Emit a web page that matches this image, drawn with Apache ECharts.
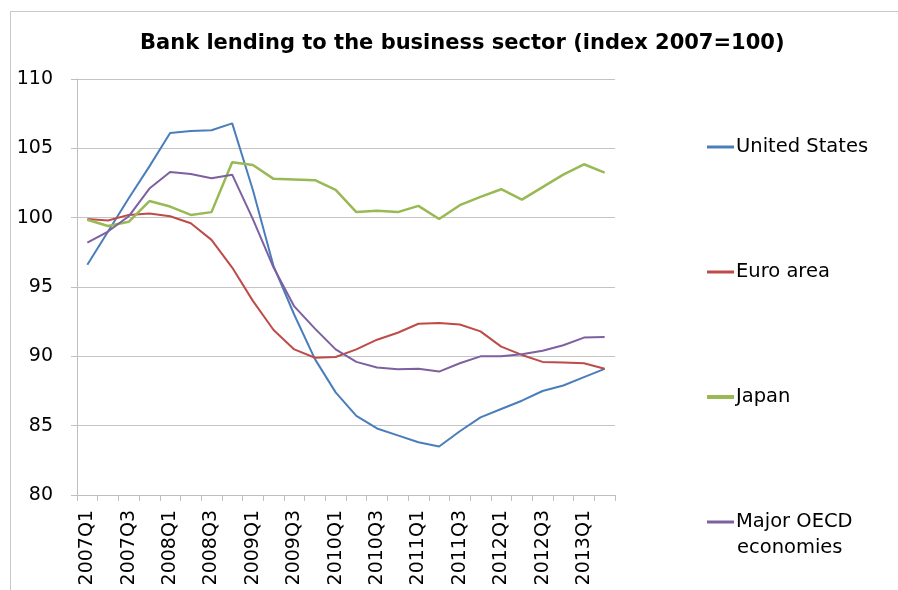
<!DOCTYPE html>
<html>
<head>
<meta charset="utf-8">
<script src="https://cdn.jsdelivr.net/npm/echarts@6/dist/echarts.min.js"></script>
<style>html,body{margin:0;padding:0;background:#fff;}#c{width:898px;height:590px;}</style>
</head>
<body>
<div id="c"></div>
<script>
const categories = ['2007Q1','2007Q2','2007Q3','2007Q4','2008Q1','2008Q2','2008Q3','2008Q4',
  '2009Q1','2009Q2','2009Q3','2009Q4','2010Q1','2010Q2','2010Q3','2010Q4',
  '2011Q1','2011Q2','2011Q3','2011Q4','2012Q1','2012Q2','2012Q3','2012Q4','2013Q1','2013Q2'];
const unitedStates = [96.6, 99.0, 101.4, 103.7, 106.1, 106.25, 106.3, 106.8, 102.0, 96.5, 93.0, 89.8, 87.4,
  85.7, 84.8, 84.3, 83.8, 83.5, 84.6, 85.6, 86.2, 86.8, 87.5, 87.9, 88.5, 89.1];
const euroArea = [99.9, 99.8, 100.2, 100.3, 100.1, 99.6, 98.4, 96.4, 94.0, 91.9, 90.5, 89.9, 89.95,
  90.5, 91.2, 91.7, 92.35, 92.4, 92.3, 91.8, 90.7, 90.1, 89.6, 89.55, 89.5, 89.1];
const japan = [99.85, 99.4, 99.7, 101.2, 100.8, 100.2, 100.4, 104.0, 103.8, 102.8, 102.75, 102.7, 102.0,
  100.4, 100.5, 100.4, 100.85, 99.9, 100.9, 101.5, 102.05, 101.3, 102.2, 103.1, 103.85, 103.25];
const majorOECD = [98.2, 99.0, 100.1, 102.1, 103.3, 103.15, 102.85, 103.1, 99.9, 96.4, 93.6, 92.0, 90.5,
  89.6, 89.2, 89.07, 89.1, 88.9, 89.5, 90.0, 90.0, 90.15, 90.4, 90.8, 91.35, 91.4];
const yTicks = {min: 80, max: 110, interval: 5};
const titleText = 'Bank lending to the business sector (index 2007=100)';
const names = ['United States', 'Euro area', 'Japan', 'Major OECD'];
const colors = ['#4a7ebb', '#be4b48', '#98b954', '#7d60a0'];

const font = 'DejaVu Sans, Verdana, sans-serif';
const chart = echarts.init(document.getElementById('c'), null, {renderer: 'canvas'});
const legendTops = [132, 257, 382, 507];
const legends = names.map((n, i) => ({
  data: [n], left: 702, top: legendTops[i], orient: 'vertical',
  itemWidth: 27, itemHeight: i === 2 ? 4 : 3, icon: 'rect', itemGap: 0,
  textStyle: {fontFamily: font, fontSize: 19.5, color: '#000', padding: [0, 0, 0, -3]}
}));
const seriesData = [unitedStates, euroArea, japan, majorOECD];
chart.setOption({
  animation: false,
  backgroundColor: '#fff',
  title: {text: titleText, left: 135, top: 28, textStyle: {fontFamily: font, fontSize: 21, fontWeight: 'bold', color: '#000'}},
  legend: legends,
  grid: {left: 77, right: 283, top: 79, bottom: 95, containLabel: false},
  xAxis: {
    type: 'category', data: categories, boundaryGap: true,
    axisLine: {lineStyle: {color: '#bfbfbf', width: 1}},
    axisTick: {show: true, interval: 0, length: 6, lineStyle: {color: '#bfbfbf'}},
    axisLabel: {interval: 1, rotate: 90, margin: 15, fontFamily: font, fontSize: 19, color: '#000'},
    splitLine: {show: false}
  },
  yAxis: {
    type: 'value', min: yTicks.min, max: yTicks.max, interval: yTicks.interval,
    axisLine: {show: true, lineStyle: {color: '#bfbfbf', width: 1}},
    axisTick: {show: true, length: 6, lineStyle: {color: '#bfbfbf'}},
    axisLabel: {margin: 24, fontFamily: font, fontSize: 19, color: '#000'},
    splitLine: {lineStyle: {color: '#c4c4c4', width: 1}}
  },
  graphic: [
    {type: 'rect', shape: {x: 10.5, y: 11.5, width: 900, height: 600}, style: {fill: 'none', stroke: '#c8c8c8', lineWidth: 1}, silent: true, z: -1},
    {type: 'text', left: 737, top: 538, style: {text: 'economies', font: '19.5px ' + font, fill: '#000'}}
  ],
  series: names.map((n, i) => ({
    name: n, type: 'line', data: seriesData[i], symbol: 'none', smooth: false,
    lineStyle: {color: colors[i], width: i === 2 ? 2.5 : 2},
    itemStyle: {color: colors[i]}
  }))
});
</script>
</body>
</html>
